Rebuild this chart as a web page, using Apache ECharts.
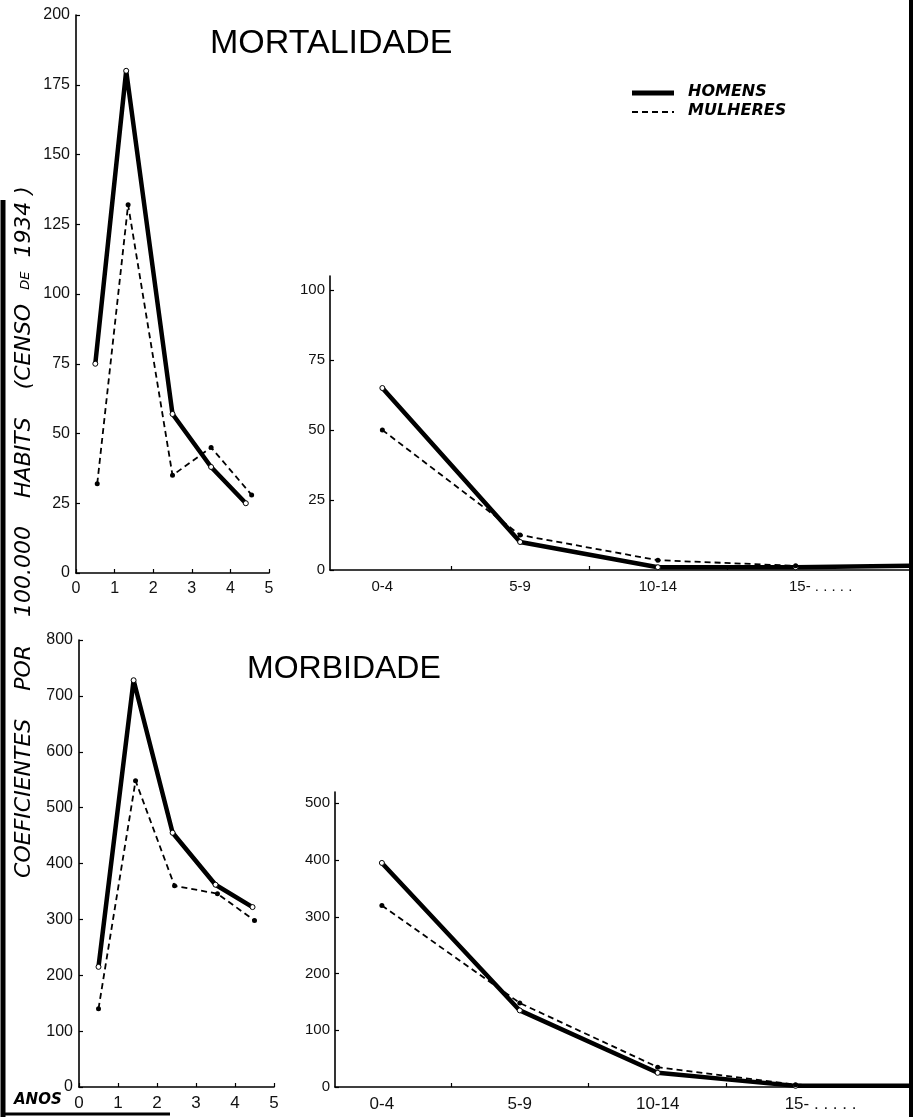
<!DOCTYPE html>
<html>
<head>
<meta charset="utf-8">
<script src="https://cdn.jsdelivr.net/npm/echarts@6/dist/echarts.min.js"></script>
<style>
html,body{margin:0;padding:0;background:#fff;}
#chart{width:916px;height:1117px;}
</style>
</head>
<body>
<div id="chart"></div>
<script>
// ---- data ----
const categories = ['0-4', '5-9', '10-14', '15- . . . . .'];
const categoryPos = [0, 1, 2, 3];
const categoryEdge = 3.83;           // right end of age axis
const yearTicks = [0, 1, 2, 3, 4, 5];

// Mortalidade por ano de idade (0-5 anos)
const mortAnoHomensX   = [0.5, 1.3, 2.5, 3.5, 4.4];
const mortAnoHomens    = [75, 180, 57, 38, 25];
const mortAnoMulheresX = [0.55, 1.35, 2.5, 3.5, 4.55];
const mortAnoMulheres  = [32, 132, 35, 45, 28];

// Morbidade por ano de idade
const morbAnoHomensX   = [0.5, 1.4, 2.4, 3.5, 4.45];
const morbAnoHomens    = [215, 728, 455, 362, 322];
const morbAnoMulheresX = [0.5, 1.45, 2.45, 3.55, 4.5];
const morbAnoMulheres  = [140, 548, 360, 346, 298];

// Por grupo etario (0-4, 5-9, 10-14, 15-...)
const mortIdadeHomens   = [65, 10, 1, 1, 1.5];
const mortIdadeMulheres = [50, 12.5, 3.5, 1.5, 1.5];
const morbIdadeHomens   = [395, 135, 25, 2, 2];
const morbIdadeMulheres = [320, 148, 35, 4, 3];

const mortTicks = [0, 25, 50, 75, 100];
const morbTicks = [0, 100, 200, 300, 400, 500];

// ---- helpers ----
const FONT = 'Liberation Sans';
function pairs(xs, ys) { return xs.map((x, i) => [x, ys[i]]); }
function agePairs(ys) {
  const xs = categoryPos.concat([categoryEdge]);
  return xs.map((x, i) => i === xs.length - 1 ? { value: [x, ys[i]], symbol: 'none' } : [x, ys[i]]);
}
const axisLine = { onZero: false, lineStyle: { color: '#000', width: 1.6 } };
const tick = { inside: true, length: 4, lineStyle: { color: '#000', width: 1.2 } };
const lbl = (size) => ({ color: '#111', fontFamily: FONT, fontSize: size });
const catLabel = (size) => Object.assign(lbl(size), {
  margin: 9, customValues: categoryPos,
  formatter: v => { const i = Math.round(v); return i === 3 ? '{p|' + categories[i] + '}' : categories[i]; },
  rich: { p: { fontFamily: FONT, fontSize: size, color: '#111', padding: [0, 0, 0, 50] } }
});

function homens(g, data) {
  return { name: 'HOMENS', type: 'line', xAxisIndex: g, yAxisIndex: g, data: data,
    symbol: 'circle', symbolSize: 5, z: 2,
    lineStyle: { color: '#000', width: 4.5, cap: 'butt', join: 'round' },
    itemStyle: { color: '#fff', borderColor: '#000', borderWidth: 1 } };
}
function mulheres(g, data) {
  return { name: 'MULHERES', type: 'line', xAxisIndex: g, yAxisIndex: g, data: data,
    symbol: 'circle', symbolSize: 5, z: 3,
    lineStyle: { color: '#000', width: 1.8, type: [6, 4] },
    itemStyle: { color: '#000' } };
}

const chart = echarts.init(document.getElementById('chart'), null, { renderer: 'canvas' });
const option = {
  backgroundColor: '#fff',
  animation: false,
  grid: [
    { left: 76,  top: 15,  width: 193, height: 558 },
    { left: 330, top: 276, width: 580, height: 294 },
    { left: 79,  top: 640, width: 195, height: 447 },
    { left: 335, top: 792, width: 575, height: 295 }
  ],
  xAxis: [
    { gridIndex: 0, type: 'value', min: 0, max: 5, interval: 1, axisLine, axisTick: tick,
      splitLine: { show: false }, axisLabel: Object.assign(lbl(16), { margin: 8,
        customValues: yearTicks }) },
    { gridIndex: 1, type: 'value', min: -0.38, max: categoryEdge, axisLine,
      axisTick: Object.assign({}, tick, { customValues: [0.5, 1.5, 2.5] }),
      splitLine: { show: false }, axisLabel: catLabel(15) },
    { gridIndex: 2, type: 'value', min: 0, max: 5, interval: 1, axisLine, axisTick: tick,
      splitLine: { show: false }, axisLabel: Object.assign(lbl(17), { margin: 8,
        customValues: yearTicks }) },
    { gridIndex: 3, type: 'value', min: -0.34, max: categoryEdge, axisLine,
      axisTick: Object.assign({}, tick, { customValues: [0.5, 1.5, 2.5] }),
      splitLine: { show: false }, axisLabel: catLabel(17) }
  ],
  yAxis: [
    { gridIndex: 0, type: 'value', min: 0, max: 200, interval: 25, axisLine: Object.assign({ show: true }, axisLine),
      axisTick: Object.assign({ show: true }, tick), splitLine: { show: false },
      axisLabel: Object.assign(lbl(16), { margin: 6 }) },
    { gridIndex: 1, type: 'value', min: 0, max: 105, axisLine: Object.assign({ show: true }, axisLine),
      axisTick: Object.assign({ show: true, customValues: mortTicks }, tick), splitLine: { show: false },
      axisLabel: Object.assign(lbl(15), { margin: 5, customValues: mortTicks }) },
    { gridIndex: 2, type: 'value', min: 0, max: 800, interval: 100, axisLine: Object.assign({ show: true }, axisLine),
      axisTick: Object.assign({ show: true }, tick), splitLine: { show: false },
      axisLabel: Object.assign(lbl(16), { margin: 6 }) },
    { gridIndex: 3, type: 'value', min: 0, max: 520, axisLine: Object.assign({ show: true }, axisLine),
      axisTick: Object.assign({ show: true, customValues: morbTicks }, tick), splitLine: { show: false },
      axisLabel: Object.assign(lbl(15), { margin: 5, customValues: morbTicks }) }
  ],
  series: [
    homens(0, pairs(mortAnoHomensX, mortAnoHomens)),
    mulheres(0, pairs(mortAnoMulheresX, mortAnoMulheres)),
    homens(1, agePairs(mortIdadeHomens)),
    mulheres(1, agePairs(mortIdadeMulheres)),
    homens(2, pairs(morbAnoHomensX, morbAnoHomens)),
    mulheres(2, pairs(morbAnoMulheresX, morbAnoMulheres)),
    homens(3, agePairs(morbIdadeHomens)),
    mulheres(3, agePairs(morbIdadeMulheres))
  ],
  graphic: [
    { type: 'text', left: 210, top: 27, style: { text: 'MORTALIDADE', fontFamily: FONT, fontSize: 34, fill: '#000' } },
    { type: 'text', left: 247, top: 653, style: { text: 'MORBIDADE', fontFamily: FONT, fontSize: 32, fill: '#000' } },
    // legend
    { type: 'line', shape: { x1: 632, y1: 93, x2: 674, y2: 93 }, style: { stroke: '#000', lineWidth: 5 } },
    { type: 'line', shape: { x1: 632, y1: 112, x2: 674, y2: 112 }, style: { stroke: '#000', lineWidth: 2, lineDash: [6, 4] } },
    { type: 'text', left: 688, top: 84, style: { text: 'HOMENS', fontFamily: 'DejaVu Sans', fontSize: 16, fontStyle: 'italic', fontWeight: 'bold', fill: '#000' } },
    { type: 'text', left: 688, top: 103, style: { text: 'MULHERES', fontFamily: 'DejaVu Sans', fontSize: 16, fontStyle: 'italic', fontWeight: 'bold', fill: '#000' } },
    // vertical axis title
    { type: 'text', x: 22, y: 532, rotation: Math.PI / 2,
      style: { text: '{b|COEFICIENTES    POR    100.000    HABITS    (CENSO  }{s|DE}{b|  1934 )}',
        rich: {
          b: { fontSize: 22, fontStyle: 'italic', fontFamily: 'DejaVu Sans', verticalAlign: 'bottom', lineHeight: 26 },
          s: { fontSize: 13, fontStyle: 'italic', fontFamily: 'DejaVu Sans', verticalAlign: 'bottom', lineHeight: 26, padding: [0, 0, 3, 0] }
        },
        fill: '#000', align: 'center', verticalAlign: 'middle' } },
    { type: 'text', left: 14, top: 1093, style: { text: 'ANOS', fontFamily: 'DejaVu Sans', fontSize: 15, fontStyle: 'italic', fontWeight: 'bold', fill: '#000' } },
    // frame lines
    { type: 'line', shape: { x1: 911, y1: 0, x2: 911, y2: 1117 }, style: { stroke: '#000', lineWidth: 4 } },
    { type: 'line', shape: { x1: 3, y1: 200, x2: 3, y2: 1117 }, style: { stroke: '#000', lineWidth: 5 } },
    { type: 'line', shape: { x1: 5, y1: 1114, x2: 170, y2: 1114 }, style: { stroke: '#000', lineWidth: 3 } }
  ]
};
chart.setOption(option);
</script>
</body>
</html>
